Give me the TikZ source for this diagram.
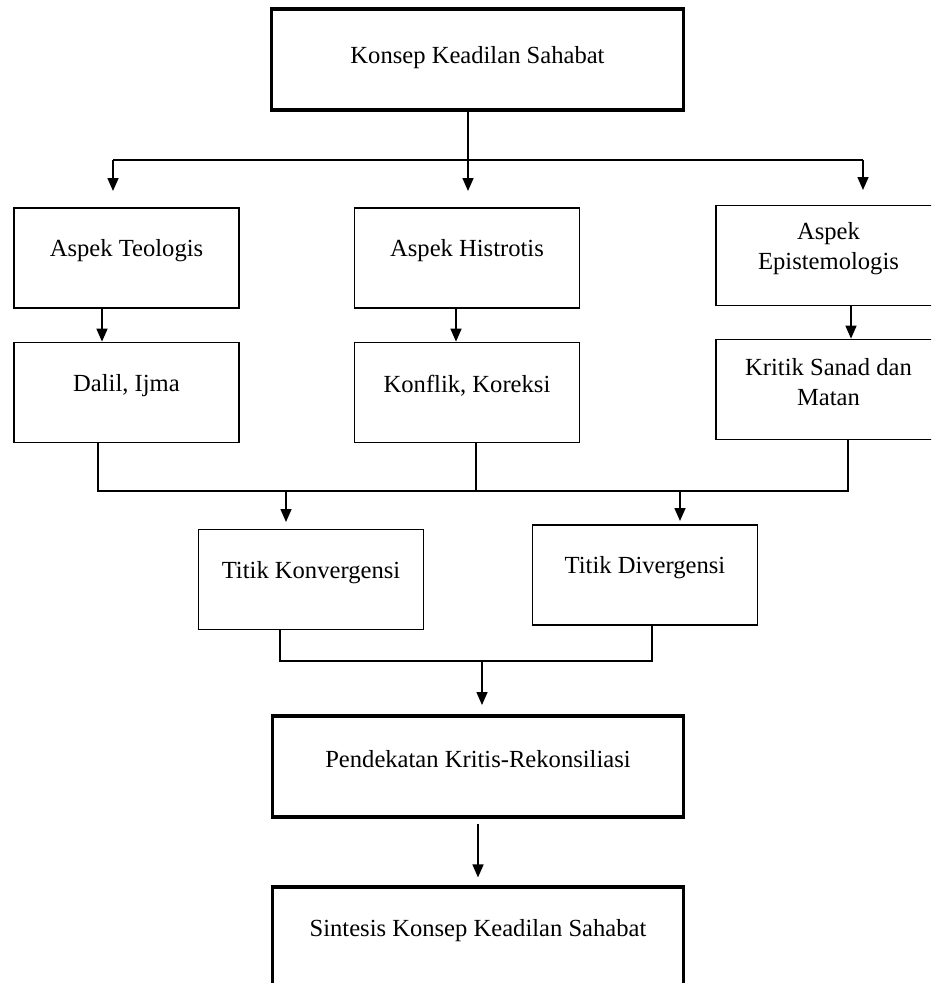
\documentclass[tikz,border=0pt]{standalone}
\usepackage{fontspec}
\setmainfont{Liberation Serif}
\usetikzlibrary{arrows.meta}

\begin{document}
\begin{tikzpicture}[x=0.02cm,y=-0.02cm,
    font=\fontsize{14}{17}\selectfont,
    box/.style={draw,line width=1pt,minimum width=4.5cm,minimum height=2cm,inner sep=0pt},
    bigbox/.style={box,line width=1.8pt,minimum width=8.23cm,minimum height=2.02cm},
    txt/.style={align=center,yshift=0.14cm},
    line/.style={line width=0.9pt},
    arr/.style={line,-{Triangle[length=0.26cm,width=0.22cm]}}]
 \useasboundingbox (0,0) rectangle (931,983);
 \clip (0,0) rectangle (931,983);

 % boxes
 \node[bigbox,label={[txt,yshift=-0.1cm]center:Konsep Keadilan Sahabat}] (konsep) at (477.5,59.5) {};
 \node[box,label={[txt]center:Aspek Teologis}] (teo) at (126.5,258) {};
 \node[box,label={[txt]center:Aspek Histrotis}] (hist) at (467,258) {};
 \node[box,label={[txt]center:Aspek\\Epistemologis}] (epis) at (828.5,255.5) {};
 \node[box,label={[txt]center:Dalil, Ijma}] (dalil) at (126.5,392.5) {};
 \node[box,label={[txt]center:Konflik, Koreksi}] (konf) at (467,392.5) {};
 \node[box,label={[txt]center:Kritik Sanad dan\\Matan}] (kritik) at (828.5,389.5) {};
 \node[box,label={[txt]center:Titik Konvergensi}] (konv) at (311,579.5) {};
 \node[box,label={[txt]center:Titik Divergensi}] (div) at (645,575) {};
 \node[bigbox,label={[txt]center:Pendekatan Kritis-Rekonsiliasi}] (pend) at (478,766.5) {};
 \node[bigbox,label={[txt]center:Sintesis Konsep Keadilan Sahabat}] (sint) at (478,937.5) {};

 % junctions
 \coordinate (j1) at (468,160);
 \coordinate (j2) at (476,491);
 \coordinate (j3) at (482,661);

 % top split
 \draw[line] (konsep.south -| j1) -- (j1);
 \draw[line] ([xshift=-0.27cm]teo.north |- j1) -- ([xshift=0.69cm]epis.north |- j1);
 \draw[arr] ([xshift=-0.27cm]teo.north |- j1) -- ++(0,31);
 \draw[arr] (j1) -- ++(0,31);
 \draw[arr] ([xshift=0.69cm]epis.north |- j1) -- ++(0,30);

 % aspects
 \draw[arr] ([xshift=-0.49cm]teo.south) -- ([xshift=-0.49cm]dalil.north);
 \draw[arr] ([xshift=-0.22cm]hist.south) -- ([xshift=-0.22cm]konf.north);
 \draw[arr] ([xshift=0.45cm]epis.south) -- ([xshift=0.45cm]kritik.north);

 % middle join
 \draw[line] ([xshift=-0.57cm]dalil.south) |- ([xshift=0.39cm]kritik.south |- j2)
   -- ([xshift=0.39cm]kritik.south);
 \draw[line] (konf.south -| j2) -- (j2);
 \draw[arr] ([xshift=-0.5cm]konv.north |- j2) -- ++(0,31);
 \draw[arr] ([xshift=0.7cm]div.north |- j2) -- ++(0,30);

 % bottom join
 \draw[line] ([xshift=-0.62cm]konv.south) |- ([xshift=0.14cm]div.south |- j3)
   -- ([xshift=0.14cm]div.south);
 \draw[arr] (j3) -- ++(0,44);
 \draw[arr] ([yshift=-0.1cm]pend.south) -- ([yshift=0.16cm]sint.north);
\end{tikzpicture}
\end{document}
